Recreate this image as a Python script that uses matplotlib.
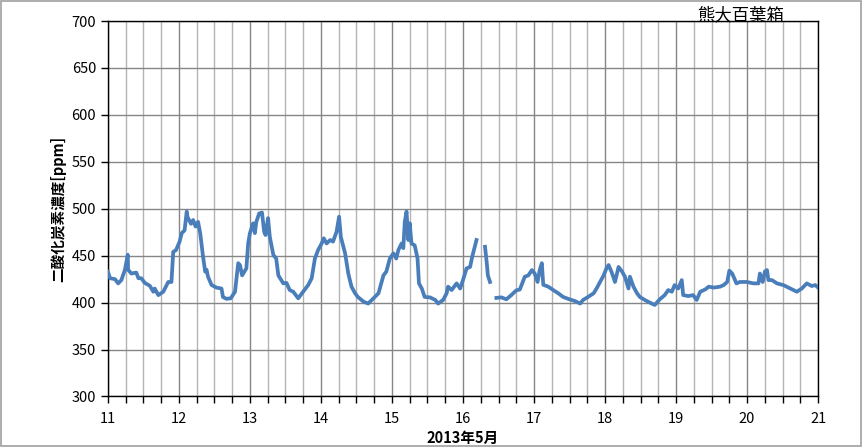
import numpy as np
import matplotlib.pyplot as plt
from matplotlib.patches import Rectangle

plt.rcParams['font.family'] = ['Noto Sans CJK JP', 'DejaVu Sans']

# 日付 (2013年5月の日) と CO2濃度 [ppm]
days = [11.00, 11.03, 11.10, 11.145, 11.19, 11.24, 11.28, 11.285, 11.33, 11.40,
        11.43, 11.47, 11.52, 11.59, 11.64, 11.66, 11.71, 11.78, 11.85, 11.895,
        11.92, 11.96, 12.01, 12.04, 12.08, 12.11, 12.12, 12.17, 12.20, 12.235,
        12.27, 12.30, 12.34, 12.37, 12.39, 12.41, 12.46, 12.53, 12.60, 12.62,
        12.67, 12.73, 12.79, 12.835, 12.86, 12.89, 12.95, 12.975, 13.00, 13.045,
        13.07, 13.09, 13.13, 13.17, 13.20, 13.22, 13.255, 13.28, 13.33, 13.37,
        13.40, 13.47, 13.515, 13.56, 13.61, 13.68, 13.75, 13.82, 13.87, 13.915,
        13.96, 14.01, 14.04, 14.08, 14.13, 14.17, 14.22, 14.255, 14.28, 14.34,
        14.385, 14.43, 14.48, 14.52, 14.60, 14.665, 14.74, 14.81, 14.88, 14.92,
        14.97, 15.02, 15.06, 15.09, 15.135, 15.16, 15.18, 15.205, 15.23, 15.25,
        15.275, 15.32, 15.36, 15.38, 15.42, 15.46, 15.535, 15.61, 15.65, 15.72,
        15.77, 15.79, 15.84, 15.91, 15.96, 16.00, 16.05, 16.10, 16.13, 16.16,
        16.19, 16.25, 16.31, 16.335, 16.35, 16.38, 16.42, 16.47, 16.54, 16.61,
        16.68, 16.75, 16.80, 16.87, 16.92, 16.97, 17.01, 17.05, 17.08, 17.11,
        17.13, 17.20, 17.27, 17.34, 17.41, 17.50, 17.575, 17.65, 17.69, 17.76,
        17.84, 17.88, 17.93, 17.98, 18.02, 18.05, 18.09, 18.14, 18.19, 18.24,
        18.28, 18.33, 18.35, 18.40, 18.45, 18.49, 18.56, 18.63, 18.70, 18.77,
        18.84, 18.89, 18.94, 18.98, 19.03, 19.08, 19.10, 19.17, 19.24, 19.29,
        19.34, 19.41, 19.46, 19.53, 19.62, 19.67, 19.72, 19.75, 19.79, 19.85,
        19.90, 19.995, 20.09, 20.16, 20.18, 20.22, 20.25, 20.28, 20.30, 20.35,
        20.42, 20.51, 20.61, 20.70, 20.77, 20.84, 20.91, 20.96, 21.00]
co2 = [433, 426, 425, 420.5, 424, 435, 451, 435, 431, 432,
       426, 426, 421, 418, 411.6, 415, 408, 411.6, 422, 422,
       454, 456, 465, 474, 477, 497, 491.5, 484, 488, 481,
       486, 474, 449, 433, 435, 427.6, 418.7, 416, 415, 406,
       404, 404.6, 411.6, 442, 440, 429, 436.5, 463, 474, 484.5,
       474, 486, 495, 496, 475.5, 472, 490, 470, 450.7, 447,
       429, 420.5, 421, 413.4, 411.6, 404.6, 411.6, 418.7, 426, 447,
       456, 463, 468.5, 463, 466.7, 465, 475.5, 491.5, 470, 452.5,
       431, 417, 410, 406, 401, 399, 404.6, 410, 429, 433,
       447, 452.5, 447, 456, 463, 458, 486, 497, 466.7, 484.5,
       463, 461, 447, 420.5, 415, 406, 405.6, 402.8, 399, 402.8,
       410, 417, 413.4, 420.5, 415, 424, 436.5, 438, 449, 458,
       466.7, np.nan, 459.5, 442, 429, 422, np.nan, 405, 405.6, 403.5,
       408, 413, 414, 427.6, 429, 434.7, 431, 422, 434.7, 442,
       419, 417, 413.4, 410, 406, 403.5, 401.7, 399, 402.8, 406,
       410, 415, 422, 429, 436.5, 440, 433, 422, 438, 433,
       427.6, 415, 427.6, 417, 410, 406, 402.8, 400, 397.5, 403.5,
       408, 413.4, 411.6, 418.7, 415, 424, 408, 407, 408, 402.8,
       411.6, 414, 417, 416, 417, 418.7, 422, 434, 431, 420.5,
       422, 422, 420.5, 420.5, 431, 422, 433, 434.7, 424, 424,
       420.5, 418.7, 415, 411.6, 415, 420.5, 417.7, 418.7, 416]

fig = plt.figure(figsize=(8.63, 4.47), dpi=100)
ax = fig.add_axes([0.125, 0.113, 0.823, 0.840])
fig.patches.append(Rectangle((0.001, 0.002), 0.997, 0.995, transform=fig.transFigure,
                             fill=False, edgecolor='#a0a0a0', linewidth=1.2))

ax.plot(days, co2, color='#4a7ebb', linewidth=2.7, zorder=3)

ax.set_xlim(11, 21)
ax.set_ylim(300, 700)
ax.set_xticks(np.arange(11, 22, 1))
ax.set_xticks(np.arange(11, 21.01, 0.25), minor=True)
ax.set_yticks(np.arange(300, 701, 50))
ax.tick_params(axis='both', which='both', direction='out', length=5, width=1,
               labelsize=10.5, colors='black')
ax.tick_params(axis='x', pad=6)
ax.grid(True, which='major', color='#868686', linewidth=1)
ax.grid(True, which='minor', axis='x', color='#b4b4b4', linewidth=1)
ax.set_axisbelow(True)
for s in ax.spines.values():
    s.set_color('black')
    s.set_linewidth(1)

ax.set_ylabel('二酸化炭素濃度[ppm]', fontsize=10.5, fontweight='bold')
ax.set_xlabel('2013年5月', fontsize=10.5, fontweight='bold', labelpad=3)
fig.text(0.858, 0.965, '熊大百葉箱', fontsize=12.5, ha='center', va='center')

plt.savefig('out.png', dpi=100)
